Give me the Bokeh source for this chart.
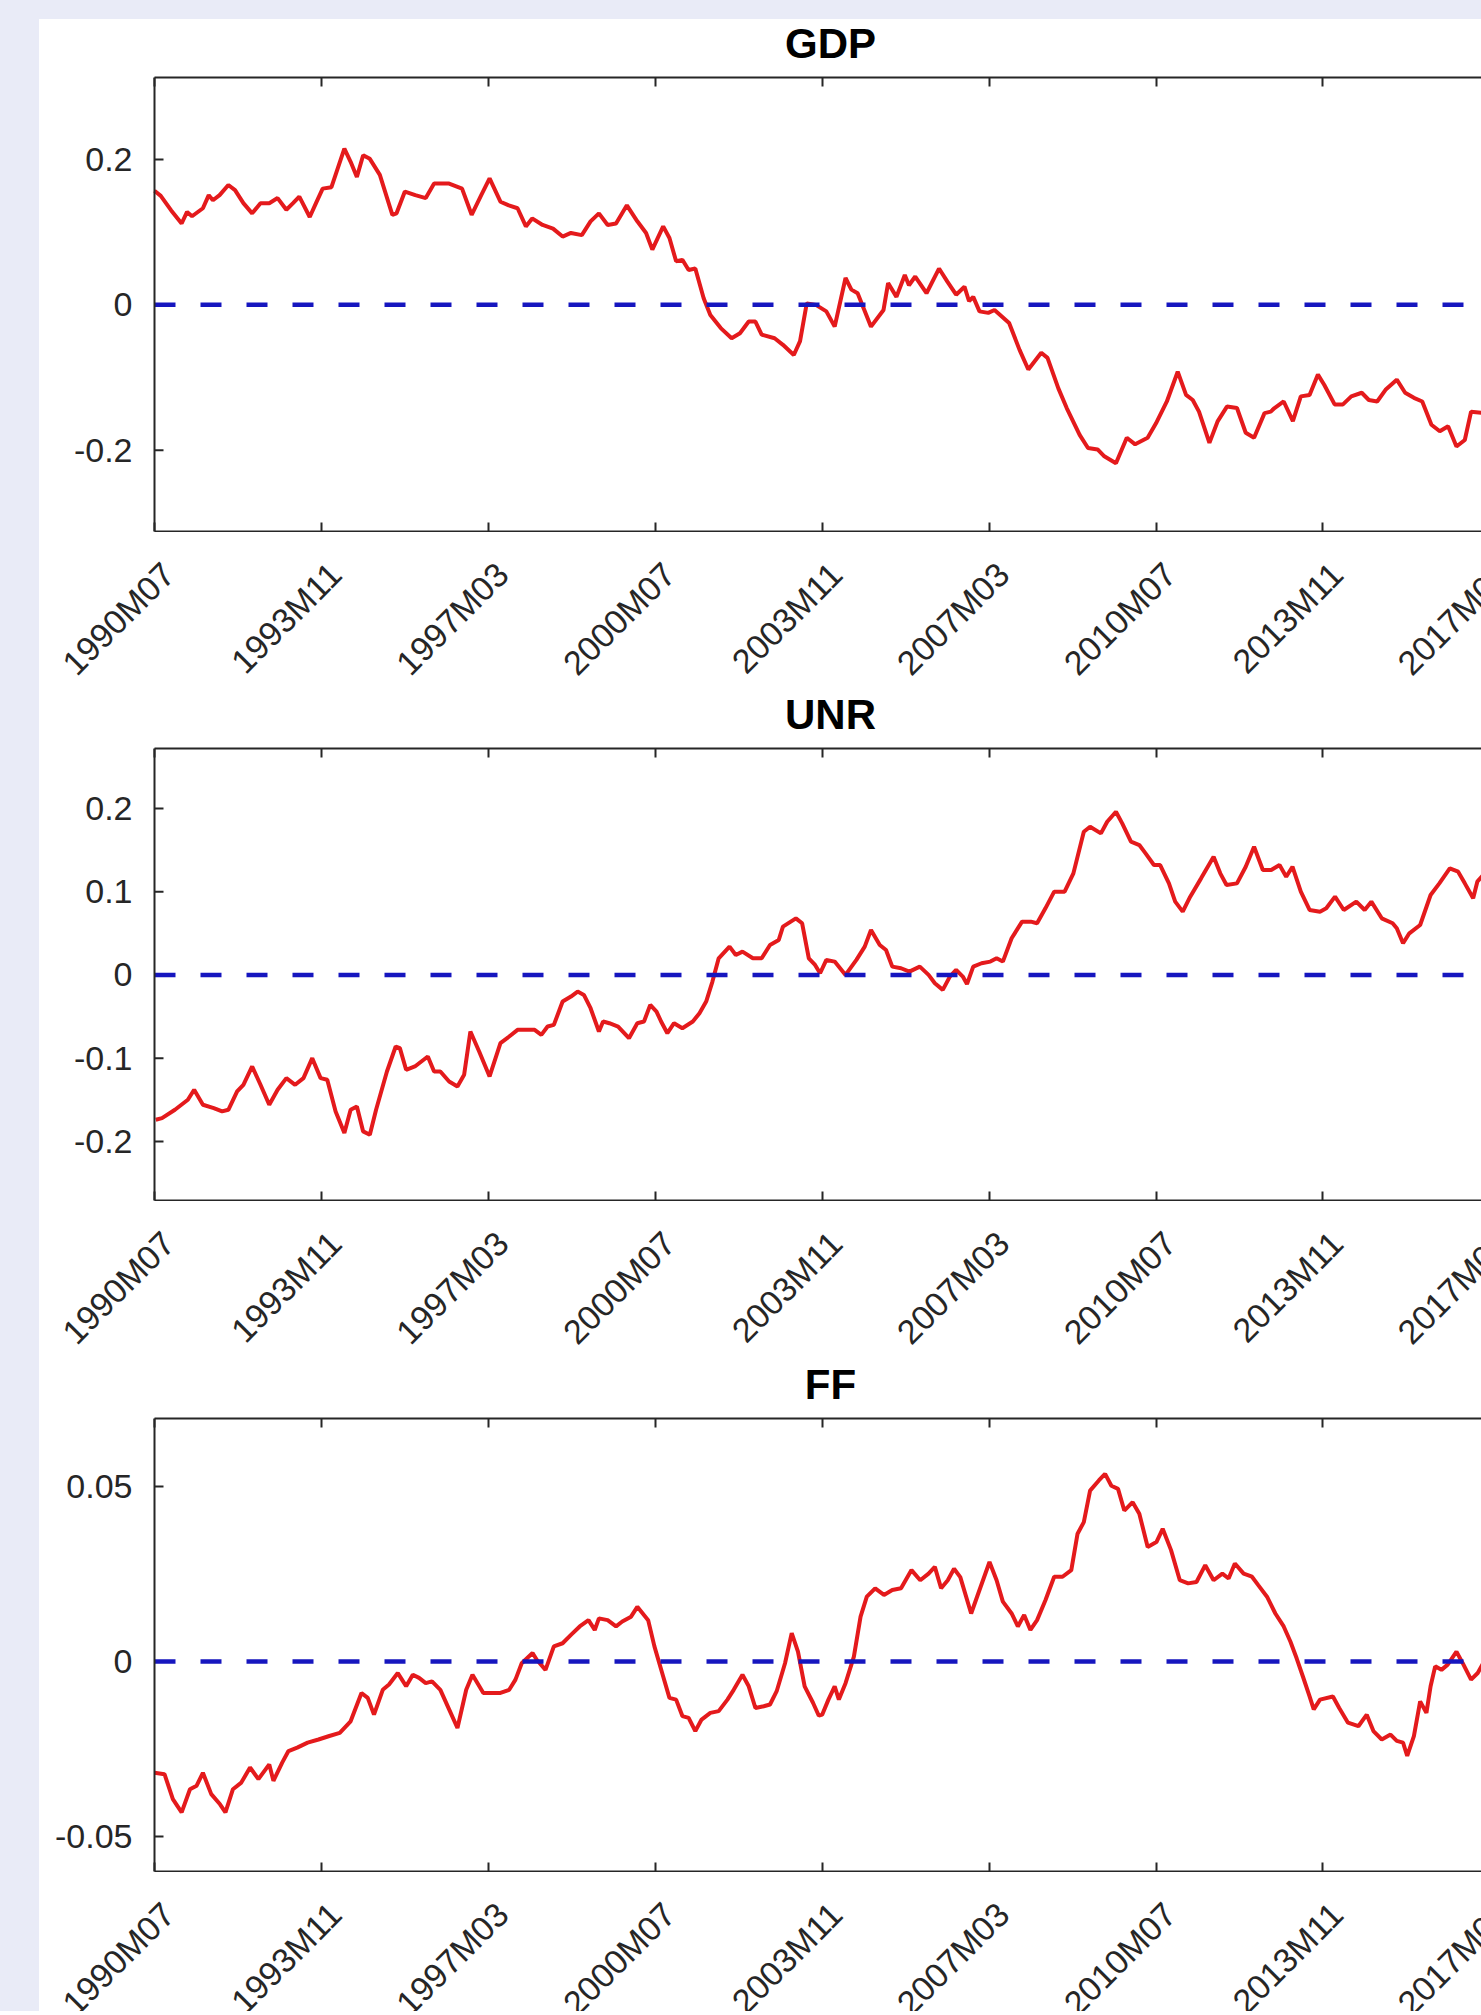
import math
from bokeh.plotting import figure
from bokeh.models import Range1d, FixedTicker, LinearAxis, Span, Spacer
from bokeh.layouts import column, row
from bokeh.embed import file_html
from bokeh.resources import INLINE
from bokeh.core.properties import value

# ---------------- data (months since 1990M07) ----------------
tick_months = [0, 40, 80, 120, 160, 200, 240, 280, 320]
tick_labels = ["1990M07", "1993M11", "1997M03", "2000M07", "2003M11",
               "2007M03", "2010M07", "2013M11", "2017M03"]

gdp_month = [0, 1.5, 4, 6.5, 7.8, 9, 11.6, 13, 14, 15.6, 17.7, 19.3, 21.3, 23.4, 25.4, 27.5, 29.5,
             31.6, 33.2, 34.7, 37.2, 38.7, 40.3, 42.4, 45.5, 47, 48.5, 50, 51.6, 54, 57, 58, 60,
             62.5, 65, 67, 70.6, 73.7, 76, 78.3, 80.3, 82.9, 84.9, 87, 89, 90.5, 93, 95.5, 97.8,
             99.8, 102.4, 104.5, 106.5, 108.6, 110.6, 113.2, 115.7, 117.8, 119.3, 121.9, 123.4,
             125, 126.5, 128, 129.6, 131.6, 133.2, 135.7, 138.3, 140.3, 142.4, 144, 145.5, 148.6,
             150.6, 153.2, 154.7, 156.3, 158.5, 161, 163, 165.6, 167, 168.5, 171.7, 174.7, 175.8,
             177.8, 179.8, 180.8, 182.3, 185, 188, 190, 192.1, 194.1, 195.2, 196.2, 197.7, 199.8,
             201.3, 204.8, 207.3, 209.4, 212.5, 214, 216.6, 218.6, 221.7, 223.7, 226, 227.5, 230.4,
             233, 235, 238, 240, 242.6, 245.2, 247.2, 248.8, 250.3, 252.8, 254.8, 257, 259.4,
             261.5, 263.5, 266, 267.5, 268.4, 270.6, 272.8, 274.7, 276.8, 278.8, 280.3, 282.8,
             284.8, 286.8, 289.3, 291, 293, 295, 297.7, 299.7, 301.8, 303.8, 306, 308, 310, 312,
             314, 315.5, 318.4, 322]
gdp_value = [0.157, 0.150, 0.130, 0.112, 0.128, 0.122, 0.133, 0.151, 0.144, 0.151, 0.165, 0.158,
             0.140, 0.126, 0.140, 0.140, 0.147, 0.131, 0.140, 0.149, 0.121, 0.140, 0.160, 0.162,
             0.215, 0.197, 0.176, 0.206, 0.201, 0.179, 0.124, 0.126, 0.156, 0.151, 0.147, 0.167,
             0.167, 0.160, 0.124, 0.151, 0.174, 0.142, 0.137, 0.133, 0.108, 0.119, 0.110, 0.105,
             0.094, 0.099, 0.096, 0.115, 0.126, 0.110, 0.112, 0.137, 0.115, 0.099, 0.076, 0.108,
             0.092, 0.060, 0.062, 0.048, 0.050, 0.009, -0.014, -0.032, -0.046, -0.039, -0.023,
             -0.023, -0.041, -0.046, -0.055, -0.069, -0.050, 0.002, 0.000, -0.009, -0.030, 0.037,
             0.021, 0.016, -0.030, -0.007, 0.030, 0.011, 0.041, 0.027, 0.039, 0.016, 0.050, 0.032,
             0.014, 0.025, 0.005, 0.011, -0.009, -0.011, -0.007, -0.025, -0.062, -0.089, -0.066,
             -0.073, -0.115, -0.142, -0.179, -0.197, -0.199, -0.208, -0.218, -0.183, -0.192,
             -0.183, -0.163, -0.133, -0.092, -0.124, -0.131, -0.147, -0.190, -0.160, -0.140,
             -0.142, -0.176, -0.183, -0.149, -0.147, -0.142, -0.133, -0.160, -0.126, -0.124,
             -0.096, -0.110, -0.137, -0.137, -0.126, -0.121, -0.131, -0.133, -0.117, -0.103,
             -0.121, -0.128, -0.133, -0.165, -0.174, -0.167, -0.195, -0.186, -0.147, -0.149,
             -0.150]

unr_month = [0.3, 1.8, 4.9, 8, 9.5, 11.6, 14.2, 16.2, 17.7, 19.8, 21.3, 23.4, 25.4, 27.5, 29.5,
             31.6, 33.7, 35.7, 37.8, 39.8, 41.4, 43.4, 45.5, 47, 48.5, 50, 51.6, 53.1, 55.7, 57.8,
             58.8, 60.3, 62.4, 65.5, 67, 68.5, 70.6, 72.6, 74.2, 75.7, 77.8, 80.3, 82.9, 85, 87,
             89, 91.1, 92.7, 94.2, 95.7, 97.8, 99.8, 101.4, 102.9, 104.5, 106.5, 107.5, 109,
             111.1, 113.7, 115.7, 117.3, 118.8, 120.3, 121.4, 122.9, 124.5, 126.5, 129, 130.6,
             132.2, 133.7, 135.2, 137.8, 139.3, 140.9, 143.4, 145.5, 147.5, 149.6, 150.6, 153.7,
             155.2, 156.8, 158.3, 159.5, 161, 163, 165.6, 168.2, 170.2, 171.7, 173.8, 175.3,
             176.8, 178.9, 180.9, 183.4, 185.5, 187, 188.9, 190.6, 192.1, 193.7, 194.7, 196.2,
             198.2, 200.3, 201.8, 203.3, 205.4, 207.9, 210, 211.5, 213.5, 215.6, 218.1, 220.2,
             222.7, 224.2, 226.8, 228.3, 230.4, 231.9, 234, 236, 237.5, 239.5, 241, 243.1, 244.6,
             246.4, 248.2, 250.8, 253.8, 255.4, 256.9, 259.4, 261.5, 263.5, 265.6, 267.6, 269.6,
             271.2, 272.7, 274.7, 276.8, 279.3, 280.8, 282.9, 285, 288, 290, 291.6, 294.1, 296.7,
             297.7, 299.2, 300.7, 303.3, 305.8, 307.9, 310.4, 312.4, 314, 316, 317, 318.4, 321]
unr_value = [-0.174, -0.172, -0.162, -0.150, -0.138, -0.156, -0.160, -0.164, -0.162, -0.140,
             -0.132, -0.110, -0.132, -0.156, -0.138, -0.124, -0.132, -0.124, -0.100, -0.124,
             -0.126, -0.164, -0.190, -0.162, -0.158, -0.188, -0.192, -0.162, -0.116, -0.086,
             -0.088, -0.114, -0.110, -0.098, -0.116, -0.116, -0.128, -0.134, -0.120, -0.068,
             -0.092, -0.122, -0.082, -0.074, -0.066, -0.066, -0.066, -0.072, -0.062, -0.060,
             -0.032, -0.026, -0.020, -0.024, -0.040, -0.068, -0.056, -0.058, -0.062, -0.076,
             -0.058, -0.056, -0.036, -0.044, -0.056, -0.070, -0.058, -0.064, -0.056, -0.046,
             -0.032, -0.008, 0.020, 0.034, 0.024, 0.028, 0.020, 0.020, 0.036, 0.042, 0.058, 0.068,
             0.062, 0.020, 0.012, 0.002, 0.018, 0.016, 0.000, 0.018, 0.034, 0.054, 0.036, 0.030,
             0.010, 0.008, 0.004, 0.010, 0.000, -0.010, -0.018, -0.002, 0.006, -0.002, -0.011,
             0.010, 0.014, 0.016, 0.020, 0.016, 0.044, 0.064, 0.064, 0.062, 0.080, 0.100, 0.100,
             0.122, 0.172, 0.178, 0.170, 0.184, 0.196, 0.182, 0.160, 0.156, 0.146, 0.132, 0.132,
             0.110, 0.088, 0.076, 0.094, 0.116, 0.142, 0.122, 0.108, 0.110, 0.130, 0.154, 0.126,
             0.126, 0.132, 0.118, 0.130, 0.100, 0.078, 0.076, 0.080, 0.094, 0.078, 0.088, 0.078,
             0.088, 0.068, 0.062, 0.056, 0.038, 0.050, 0.060, 0.096, 0.110, 0.128, 0.124, 0.110,
             0.092, 0.112, 0.120, 0.122]

ff_month = [0, 2.4, 4.4, 6.5, 8.5, 10.1, 11.6, 13.6, 15.7, 17, 18.8, 20.8, 22.9, 24.9, 27.5, 28.5,
            30.6, 32.1, 34.2, 36.7, 39.3, 41.9, 44.4, 47, 49.6, 51.1, 52.6, 54.7, 56.2, 58.3, 59.3,
            60.3, 61.9, 63.4, 65, 66.5, 68.5, 70.6, 72.6, 74.7, 76.2, 78.8, 80.8, 82.9, 85, 86.5,
            88, 90.6, 91.6, 93.7, 95.7, 97.8, 99.8, 101.9, 104, 105.5, 106.5, 108.6, 110.6, 112.1,
            114.2, 115.7, 118.3, 119.8, 121.9, 123.4, 125, 126.5, 128, 129.6, 131.1, 133.2, 135.2,
            137.3, 138.8, 140.9, 142.4, 144, 146, 147.5, 149.1, 151.1, 152.7, 154.2, 155.8, 157.8,
            159.2, 160, 161.5, 163, 164, 165.6, 167.6, 169.2, 170.7, 172.7, 174.8, 176.8, 178.9,
            181.4, 183.5, 185.5, 187, 188.5, 190.1, 191.6, 193.1, 195.7, 197.7, 200.1, 201.8,
            203.3, 205.4, 206.9, 208.4, 209.9, 211.5, 213.5, 215.6, 217.6, 219.7, 221.2, 222.7,
            224.2, 226.3, 227.8, 229.3, 230.9, 232.4, 234.4, 236, 238, 240.1, 241.6, 243.6, 245.7,
            247.7, 249.7, 251.8, 253.8, 255.9, 257.4, 258.9, 261, 263, 264.5, 266.6, 268.6, 270.6,
            272.2, 273.7, 275.2, 276.8, 277.8, 279.3, 282.4, 283.9, 286, 288.5, 290.5, 292.1,
            294.1, 296.2, 297.7, 299.2, 300.2, 301.8, 303.3, 304.8, 305.8, 306.9, 308.4, 309.9,
            312, 313.5, 315.5, 317.1, 318.4, 321]
ff_value = [-0.0318, -0.0322, -0.0393, -0.0431, -0.0365, -0.0355, -0.0318, -0.0379, -0.0408,
            -0.0431, -0.0365, -0.0346, -0.0303, -0.0336, -0.0294, -0.0341, -0.0289, -0.0256,
            -0.0246, -0.0232, -0.0223, -0.0213, -0.0204, -0.0171, -0.0090, -0.0104, -0.0152,
            -0.0081, -0.0066, -0.0033, -0.0052, -0.0071, -0.0038, -0.0047, -0.0062, -0.0057,
            -0.0081, -0.0137, -0.0190, -0.0081, -0.0038, -0.0090, -0.0090, -0.0090, -0.0081,
            -0.0052, -0.0005, 0.0024, 0.0005, -0.0024, 0.0043, 0.0052, 0.0076, 0.0100, 0.0118,
            0.0090, 0.0123, 0.0118, 0.0100, 0.0114, 0.0128, 0.0156, 0.0118, 0.0043, -0.0043,
            -0.0104, -0.0109, -0.0156, -0.0161, -0.0199, -0.0166, -0.0147, -0.0142, -0.0109,
            -0.0081, -0.0038, -0.0071, -0.0133, -0.0128, -0.0123, -0.0085, -0.0005, 0.0081,
            0.0028, -0.0071, -0.0118, -0.0155, -0.0152, -0.0109, -0.0071, -0.0109, -0.0062,
            0.0014, 0.0128, 0.0185, 0.0209, 0.0190, 0.0204, 0.0209, 0.0261, 0.0232, 0.0251,
            0.0270, 0.0209, 0.0232, 0.0265, 0.0241, 0.0137, 0.0204, 0.0284, 0.0232, 0.0171,
            0.0137, 0.0100, 0.0133, 0.0090, 0.0118, 0.0175, 0.0242, 0.0242, 0.0261, 0.0365,
            0.0398, 0.0488, 0.0517, 0.0536, 0.0502, 0.0493, 0.0431, 0.0455, 0.0422, 0.0327,
            0.0341, 0.0379, 0.0318, 0.0232, 0.0223, 0.0227, 0.0275, 0.0232, 0.0251, 0.0237,
            0.0280, 0.0251, 0.0242, 0.0218, 0.0185, 0.0137, 0.0100, 0.0057, 0.0009, -0.0043,
            -0.0100, -0.0137, -0.0109, -0.0100, -0.0133, -0.0175, -0.0185, -0.0152, -0.0199,
            -0.0223, -0.0209, -0.0227, -0.0232, -0.0270, -0.0213, -0.0114, -0.0147, -0.0071,
            -0.0014, -0.0024, -0.0009, 0.0028, -0.0005, -0.0052, -0.0033, -0.0005, 0.0010]

gdp_yticks, gdp_ylabels = [-0.2, 0, 0.2], ["-0.2", "0", "0.2"]
unr_yticks, unr_ylabels = [-0.2, -0.1, 0, 0.1, 0.2], ["-0.2", "-0.1", "0", "0.1", "0.2"]
ff_yticks, ff_ylabels = [-0.05, 0, 0.05], ["-0.05", "0", "0.05"]
titles = ["GDP", "UNR", "FF"]

# ---------------- styling / layout ----------------
LAV = "#e9ebf7"
AX = "#262626"
FONT = "Liberation Sans"
TICK_FS = "34px"
X_END = 318.0
FIG_W = 1442
LEFT = 115                      # px between figure edge and the axes box
PPM = (FIG_W - LEFT) / X_END    # pixels per month
X_START = -LEFT / PPM           # every figure's frame spans the full width
TICK_LEN = 9                    # inward tick length, px
YLAB_GAP = 22                   # gap between y labels and the y axis, px
TITLE_X_PX = 676                # title centre, px right of the y axis
TITLE_Y = 33                    # title centre, px above the bottom of its strip
XLAB_DX, XLAB_DY = 14, 36       # rotated label anchor: px right of tick, px below strip top


def style_axis(ax):
    ax.axis_line_color = AX
    ax.axis_line_width = 2
    ax.major_tick_line_color = AX
    ax.major_tick_line_width = 2
    ax.major_tick_in = TICK_LEN
    ax.major_tick_out = 0
    ax.minor_tick_in = 0
    ax.minor_tick_out = 0
    ax.minor_tick_line_color = None
    ax.major_label_text_font_size = "0px"
    ax.major_label_text_color = None
    ax.major_label_standoff = 0
    ax.ticker = FixedTicker(ticks=tick_months)
    ax.bounds = (0, X_END)


def make_main(months, values, yr, yticks, ylabels, frame_h):
    p = figure(width=FIG_W, height=frame_h + 2,
               x_range=Range1d(X_START, X_END), y_range=Range1d(*yr),
               output_backend="svg", toolbar_location=None,
               min_border_left=0, min_border_right=0,
               min_border_top=1, min_border_bottom=1, y_axis_location=None)
    p.outline_line_color = None
    p.xgrid.visible = False
    p.ygrid.visible = False
    p.background_fill_color = "white"
    p.border_fill_color = "white"

    style_axis(p.xaxis[0])
    top_ax = LinearAxis()
    style_axis(top_ax)
    p.add_layout(top_ax, "above")

    # y axis: line, inward ticks and labels
    p.add_layout(Span(location=0, dimension="height", line_color=AX, line_width=2))
    n = len(yticks)
    p.segment(x0=[0] * n, y0=yticks, x1=[TICK_LEN / PPM] * n, y1=yticks,
              line_color=AX, line_width=2)
    p.text(x=[-YLAB_GAP / PPM] * n, y=yticks, text=ylabels,
           text_align=value("right"), text_baseline=value("middle"),
           text_font=value(FONT), text_font_size=value(TICK_FS), text_color=value(AX))

    p.line(months, values, line_color="#e41a1c", line_width=4.0)
    # zero reference line, starting at the y axis
    p.ray(x=[0], y=[0], length=0, angle=0, line_color="#1616bf",
          line_width=4.5, line_dash="21 25")
    return p


def make_strip(h, date_labels, title):
    """White band between two panels: rotated date labels of the panel above,
    and the bold title of the panel below."""
    s = figure(width=FIG_W, height=h, x_range=Range1d(X_START, X_END),
               y_range=Range1d(0, h), output_backend="svg", toolbar_location=None,
               min_border=0, x_axis_location=None, y_axis_location=None)
    s.outline_line_color = None
    s.xgrid.visible = False
    s.ygrid.visible = False
    s.background_fill_color = "white"
    s.border_fill_color = "white"
    if date_labels:
        s.text(x=[m + XLAB_DX / PPM for m in tick_months], y=[h - XLAB_DY] * len(tick_months),
               text=tick_labels, angle=math.pi / 4,
               text_align=value("right"), text_baseline=value("middle"),
               text_font=value(FONT), text_font_size=value(TICK_FS), text_color=value(AX))
    if title:
        s.text(x=[TITLE_X_PX / PPM], y=[TITLE_Y], text=[title],
               text_align=value("center"), text_baseline=value("middle"),
               text_font=value(FONT), text_font_style=value("bold"),
               text_font_size=value("42px"), text_color=value("black"))
    return s


t1 = make_strip(57, False, titles[0])
m1 = make_main(gdp_month, gdp_value, (-0.312, 0.313), gdp_yticks, gdp_ylabels, 454)
s1 = make_strip(215, True, titles[1])
m2 = make_main(unr_month, unr_value, (-0.271, 0.272), unr_yticks, unr_ylabels, 452)
s2 = make_strip(216, True, titles[2])
m3 = make_main(ff_month, ff_value, (-0.060, 0.0694), ff_yticks, ff_ylabels, 453)
s3 = make_strip(139, True, None)

stack = [t1, m1, s1, m2, s2, m3, s3]
total_h = sum(f.height for f in stack)
top_sp = Spacer(width=39 + FIG_W, height=19, styles={"background-color": LAV})
left_sp = Spacer(width=39, height=total_h, styles={"background-color": LAV})
root = column(top_sp, row(left_sp, column(*stack)))

open("out.html", "w").write(file_html(root, INLINE))
